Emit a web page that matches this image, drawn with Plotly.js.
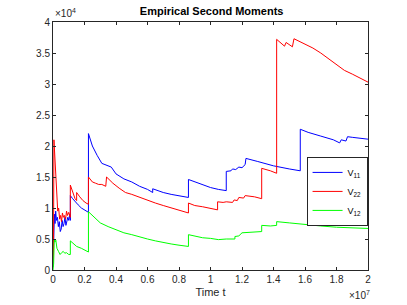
<!DOCTYPE html>
<html><head><meta charset="utf-8">
<script src="https://cdn.plot.ly/plotly-3.0.1.min.js"></script>
<style>html,body{margin:0;padding:0;background:#fff}#c{width:407px;height:305px}</style>
</head><body><div id="c"></div>
<script>
// t in units of 1e7, V in units of 1e4
const tV11 = [0,0.003,0.006,0.009,0.013,0.017,0.022,0.028,0.034,0.04,0.046,0.052,0.058,0.064,0.07,0.076,0.082,0.088,0.094,0.1,0.106,0.11,0.11,0.125,0.14,0.16,0.18,0.2,0.225,0.225,0.25,0.28,0.31,0.33,0.35,0.37,0.4,0.45,0.5,0.55,0.6,0.633,0.633,0.7,0.75,0.8,0.86,0.86,0.9,0.95,1.0,1.05,1.1,1.1,1.13,1.14,1.16,1.18,1.2,1.22,1.225,1.3,1.4,1.5,1.57,1.57,1.62,1.7,1.78,1.82,1.83,1.86,1.87,1.9,1.95,2.0];
const V11 = [0.05,0.5,0.3,0.9,0.75,0.95,0.8,0.85,0.7,0.78,0.62,0.66,0.8,0.7,0.75,0.85,0.72,0.78,0.85,0.8,0.9,0.8,1.2,1.15,1.1,1.05,1.0,0.97,0.93,2.2,2.0,1.85,1.72,1.7,1.68,1.66,1.55,1.47,1.42,1.35,1.3,1.25,1.31,1.25,1.22,1.2,1.17,1.46,1.42,1.38,1.33,1.3,1.28,1.59,1.6,1.63,1.62,1.66,1.65,1.7,1.8,1.75,1.68,1.63,1.6,2.27,2.22,2.16,2.1,2.05,2.1,2.08,2.15,2.14,2.12,2.11];

const tV22 = [0,0.003,0.006,0.012,0.018,0.024,0.03,0.036,0.042,0.048,0.054,0.06,0.066,0.072,0.08,0.086,0.092,0.1,0.11,0.11,0.125,0.14,0.15,0.15,0.17,0.19,0.21,0.225,0.225,0.25,0.27,0.29,0.31,0.335,0.34,0.38,0.42,0.46,0.5,0.55,0.6,0.65,0.7,0.75,0.8,0.86,0.86,0.9,0.95,1.0,1.045,1.045,1.08,1.1,1.14,1.15,1.17,1.18,1.21,1.22,1.28,1.325,1.325,1.38,1.42,1.42,1.45,1.47,1.48,1.52,1.53,1.58,1.65,1.7,1.75,1.8,1.85,1.9,1.95,2.0];
const V22 = [0.1,0.3,2.1,1.8,1.4,1.2,0.95,1.0,0.82,0.88,0.78,0.92,0.85,0.88,0.82,0.95,0.88,0.93,0.85,1.37,1.25,1.15,1.12,1.25,1.18,1.12,1.08,1.06,1.5,1.42,1.4,1.38,1.38,1.35,1.5,1.4,1.32,1.25,1.22,1.17,1.12,1.08,1.04,1.0,0.96,0.92,1.08,1.04,1.02,1.0,0.97,1.1,1.09,1.1,1.09,1.13,1.12,1.17,1.16,1.2,1.18,1.15,1.64,1.6,1.56,3.72,3.65,3.61,3.67,3.6,3.73,3.67,3.58,3.5,3.41,3.32,3.22,3.16,3.1,3.03];

const tV12 = [0,0.004,0.008,0.012,0.018,0.025,0.035,0.045,0.055,0.065,0.075,0.085,0.1,0.11,0.11,0.13,0.15,0.18,0.2,0.225,0.225,0.26,0.3,0.35,0.4,0.45,0.5,0.55,0.6,0.65,0.7,0.75,0.8,0.86,0.86,0.9,0.95,1.0,1.05,1.1,1.155,1.155,1.18,1.2,1.25,1.325,1.325,1.38,1.42,1.42,1.5,1.6,1.7,1.8,1.9,2.0];
const V12 = [0,0.1,0.5,0.45,0.48,0.35,0.3,0.25,0.28,0.3,0.27,0.28,0.25,0.25,0.47,0.42,0.38,0.35,0.32,0.29,0.94,0.85,0.76,0.7,0.65,0.6,0.57,0.53,0.5,0.47,0.44,0.42,0.4,0.38,0.57,0.55,0.52,0.51,0.49,0.5,0.5,0.54,0.55,0.6,0.61,0.62,0.72,0.71,0.72,0.78,0.76,0.73,0.71,0.69,0.68,0.67];

const names = ['V<sub>11</sub>','V<sub>22</sub>','V<sub>12</sub>'];
const xTicks = [0,0.2,0.4,0.6,0.8,1,1.2,1.4,1.6,1.8,2];
const xTickText = ['0','0.2','0.4','0.6','0.8','1','1.2','1.4','1.6','1.8','2'];
const yTicks = [0,0.5,1,1.5,2,2.5,3,3.5,4];
const yTickText = ['0','0.5','1','1.5','2','2.5','3','3.5','4'];

const traces = [
  {x:tV11,y:V11,name:names[0],mode:'lines',line:{color:'#0000ff',width:1}},
  {x:tV22,y:V22,name:names[1],mode:'lines',line:{color:'#ff0000',width:1}},
  {x:tV12,y:V12,name:names[2],mode:'lines',line:{color:'#00ff00',width:1}}
];
const axCommon = {showgrid:false,zeroline:false,showline:true,mirror:'ticks',linecolor:'#262626',linewidth:1,
  ticks:'inside',ticklen:3,tickcolor:'#262626',tickfont:{family:'Liberation Sans, Arial',size:10,color:'#262626'}};
const layout = {
  width:407,height:305,margin:{l:53,r:39,t:22,b:35},
  paper_bgcolor:'#fff',plot_bgcolor:'#fff',
  title:{text:'<b>Empirical Second Moments</b>',font:{family:'Liberation Sans, Arial',size:11,color:'#000'},x:0.52,xanchor:'center',y:0.963,yanchor:'middle'},
  xaxis:Object.assign({},axCommon,{range:[0,2],tickvals:xTicks,ticktext:xTickText,
    title:{text:'Time t',font:{family:'Liberation Sans, Arial',size:11,color:'#262626'},standoff:4}}),
  yaxis:Object.assign({},axCommon,{range:[0,4],tickvals:yTicks,ticktext:yTickText}),
  showlegend:true,
  legend:{x:0.805,y:0.456,xanchor:'left',yanchor:'top',bgcolor:'#fff',bordercolor:'#262626',borderwidth:1,
    font:{family:'Liberation Sans, Arial',size:9,color:'#000'},tracegroupgap:0,itemwidth:30},
  annotations:[
    {xref:'paper',yref:'paper',x:0,y:1,xanchor:'left',yanchor:'bottom',showarrow:false,yshift:1,
     text:'×10<sup>4</sup>',font:{family:'Liberation Sans, Arial',size:10,color:'#262626'}},
    {xref:'paper',yref:'paper',x:1,y:0,xanchor:'right',yanchor:'top',showarrow:false,yshift:-17,xshift:4,
     text:'×10<sup>7</sup>',font:{family:'Liberation Sans, Arial',size:10,color:'#262626'}}
  ]
};
Plotly.newPlot('c',traces,layout,{displayModeBar:false,staticPlot:true});
</script></body></html>
